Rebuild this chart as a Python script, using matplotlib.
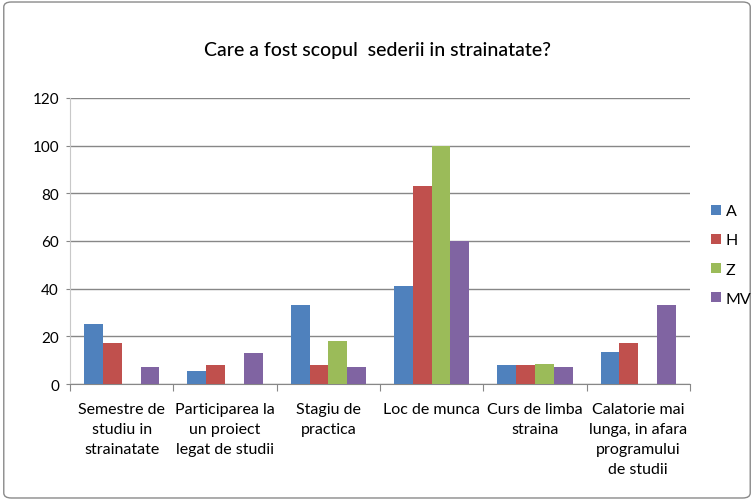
import matplotlib.pyplot as plt
import numpy as np
from matplotlib.patches import FancyBboxPatch

plt.rcParams['font.family'] = ['Lato', 'DejaVu Sans']

categories = ['Semestre de\nstudiu in\nstrainatate', 'Participarea la\nun proiect\nlegat de studii',
              'Stagiu de\npractica', 'Loc de munca', 'Curs de limba\nstraina',
              'Calatorie mai\nlunga, in afara\nprogramului\nde studii']
series = ['A', 'H', 'Z', 'MV']
A = [25, 5.5, 33, 41, 8, 13.5]
H = [17, 8, 8, 83, 8, 17]
Z = [0, 0, 18, 100, 8.5, 0]
MV = [7, 13, 7, 60, 7, 33]
colors = ['#4F81BD', '#C0504D', '#9BBB59', '#8064A2']

fig = plt.figure(figsize=(7.54, 5.02), dpi=100)
ax = fig.add_axes([0.093, 0.233, 0.822, 0.57])

x = np.arange(len(categories))
w = 0.182
for i, (name, vals) in enumerate(zip(series, [A, H, Z, MV])):
    ax.bar(x + (i - 1.5) * w, vals, w, color=colors[i], label=name, zorder=3)

ax.set_xlim(-0.5, len(categories) - 0.5)
ax.set_ylim(0, 120)
ax.set_yticks(range(0, 121, 20))
ax.yaxis.grid(True, color='#878787', linewidth=1, zorder=0)
for s in ['top', 'right']:
    ax.spines[s].set_visible(False)
ax.spines['left'].set_color('#c8c8c8')
ax.spines['bottom'].set_color('#878787')
ax.set_xticks(np.arange(-0.5, len(categories), 1))
ax.set_xticklabels([])
ax.tick_params(axis='x', length=5, color='#878787')
ax.tick_params(axis='y', length=3, color='#878787', labelsize=11, pad=5)
for xi, lab in zip(x, categories):
    ax.text(xi, -7.5, lab, ha='center', va='top', fontsize=11.5, linespacing=1.55)

fig.text(0.5, 0.888, 'Care a fost scopul  sederii in strainatate?', ha='center', fontsize=14,
         fontweight='medium')
fig.legend(loc='center left', bbox_to_anchor=(0.935, 0.49), frameon=False, fontsize=11.5,
           handlelength=0.6, handleheight=0.6, labelspacing=0.95, handletextpad=0.3, borderaxespad=0)

fig.patches.append(FancyBboxPatch((0.005, 0.006), 0.99, 0.988, boxstyle='round,pad=0,rounding_size=0.01',
                                  transform=fig.transFigure, fill=False, edgecolor='#8a8a8a', linewidth=1))

fig.savefig('out.png', dpi=100)
